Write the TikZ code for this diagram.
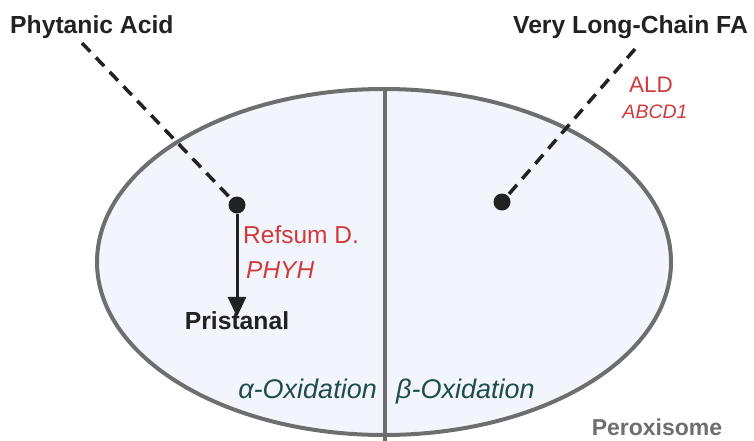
\documentclass[tikz,border=0pt]{standalone}
\usepackage{fontspec}
\setmainfont{Liberation Sans}
\usetikzlibrary{arrows.meta,shapes.geometric}
\definecolor{rimgray}{HTML}{6E6E6E}
\definecolor{cellfill}{HTML}{F2F5FC}
\definecolor{darktxt}{HTML}{222222}
\definecolor{redtxt}{HTML}{D03A3A}
\definecolor{tealtxt}{HTML}{1E4D4B}
\tikzset{
  title/.style={font=\fontsize{24.7}{28}\selectfont\bfseries, text=darktxt, inner sep=0pt},
  gene/.style={font=\fontsize{24.5}{28}\selectfont, text=redtxt, inner sep=0pt},
  genei/.style={font=\fontsize{24.5}{28}\selectfont\itshape, text=redtxt, inner sep=0pt},
  oxid/.style={font=\fontsize{27}{30}\selectfont\itshape, text=tealtxt, inner sep=0pt},
  dot/.style={circle, fill=darktxt, minimum size=17pt, inner sep=0pt},
  dashline/.style={draw=darktxt, line width=3.5pt, dash pattern=on 12pt off 8pt},
}
\begin{document}
\begin{tikzpicture}[x=1pt,y=-1pt]
\useasboundingbox (0,0) rectangle (754,441);
\node[ellipse, draw=rimgray, fill=cellfill, line width=4pt, minimum width=574pt, minimum height=346pt, inner sep=0pt] (cell) at (384,262) {};
\coordinate (divtop) at (385,89);
\coordinate (divbot) at (385,441);
\draw[rimgray, line width=4pt] (divtop) -- (divbot);

\node[title, anchor=base west] (phy) at (10,34) {Phytanic Acid};
\node[title, anchor=base east] (vlc) at (748,34) {Very Long-Chain FA};

\node[dot] (dl) at (237,205) {};
\node[dot] (dr) at (502,202) {};
\coordinate (phyend) at (82,43);
\coordinate (vlcend) at (635,49);
\draw[dashline] (phyend) -- (dl);
\draw[dashline] (vlcend) -- (dr);

\node[gene, anchor=base west] (ref) at (243,243) {Refsum D.};
\node[genei, anchor=base west] (phyh) at (246,278) {PHYH};
\node[title, anchor=base] (pri) at (237,329) {Pristanal};
\draw[darktxt, line width=3pt, -{Triangle[width=18pt,length=20pt]}] (dl.south) -- ([yshift=-6pt]pri.north);

\node[gene, font=\fontsize{22.5}{26}\selectfont, anchor=base] (ald) at (651,93) {ALD};
\node[genei, font=\fontsize{19.5}{22}\selectfont\itshape, anchor=base] (abcd) at (655,118) {ABCD1};

\node[oxid, anchor=base east] (alpha) at (377,398) {α-Oxidation};
\node[oxid, anchor=base west] (beta) at (396,398) {β-Oxidation};
\node[title, font=\fontsize{23}{26}\selectfont\bfseries, text=rimgray, anchor=base] (perox) at (657,435) {Peroxisome};
\end{tikzpicture}
\end{document}
